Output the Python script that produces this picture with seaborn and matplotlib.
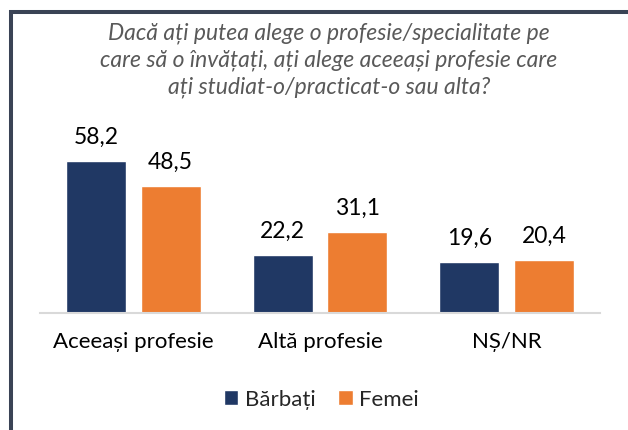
import pandas as pd
import matplotlib
matplotlib.use("Agg")
import matplotlib.pyplot as plt
from matplotlib.lines import Line2D
import seaborn as sns

# Date
categorii = ["Aceeași profesie", "Altă profesie", "NȘ/NR"]
barbati = [58.2, 22.2, 19.6]
femei = [48.5, 31.1, 20.4]
serii = ["Bărbați", "Femei"]
culori = ["#203864", "#ED7D31"]
titlu = ("Dacă ați putea alege o profesie/specialitate pe\n"
         "care să o învățați, ați alege aceeași profesie care\n"
         "ați studiat-o/practicat-o sau alta?")

df = pd.DataFrame({
    "categorie": categorii * 2,
    "gen": [serii[0]] * len(categorii) + [serii[1]] * len(categorii),
    "procent": barbati + femei,
})

sns.set_theme(style="white")
plt.rcParams["font.family"] = ["Lato", "DejaVu Sans"]

W, H = 628, 431
fig = plt.figure(figsize=(W / 100, H / 100), dpi=100)
ax = fig.add_axes([40 / W, (H - 314) / H, 560 / W, 183 / H])

sns.barplot(data=df, x="categorie", y="procent", hue="gen",
            palette=culori, width=0.8, gap=0.2, ax=ax,
            saturation=1, errorbar=None)

ax.set_ylim(0, 70)
ax.set_xlim(-0.5, 2.5)
ax.set_xlabel("")
ax.set_ylabel("")
ax.set_yticks([])
ax.tick_params(axis="x", length=0, pad=13, labelsize=16, labelcolor="black")
for s in ["top", "right", "left"]:
    ax.spines[s].set_visible(False)
ax.spines["bottom"].set_color("#D9D9D9")
ax.spines["bottom"].set_linewidth(1.5)

# etichete valori
for cont, vals in zip(ax.containers, [barbati, femei]):
    ax.bar_label(cont, labels=[f"{v:.1f}".replace(".", ",") for v in vals],
                 padding=10, fontsize=16.5, color="black")

# legenda
sns.move_legend(ax, "center", bbox_to_anchor=(321.5 / W, 1 - 400 / H),
                bbox_transform=fig.transFigure, ncol=2, frameon=False,
                title=None, fontsize=16, handlelength=0.65, handleheight=0.65,
                handletextpad=0.3, columnspacing=1.0)

# titlu
fig.text(329 / W, 1 - 60 / H, titlu, ha="center", va="center",
         fontsize=16.5, style="italic", color="#595959", linespacing=1.32)

# chenar
lc = "#3A4355"
fig.add_artist(Line2D([10.5 / W, 10.5 / W], [0, 1 - 11 / H],
                      transform=fig.transFigure, color=lc, lw=2.9,
                      solid_capstyle="butt"))
fig.add_artist(Line2D([8.5 / W, 1], [1 - 13 / H, 1 - 13 / H],
                      transform=fig.transFigure, color=lc, lw=2.9,
                      solid_capstyle="butt"))

fig.savefig("out.png", dpi=100)
